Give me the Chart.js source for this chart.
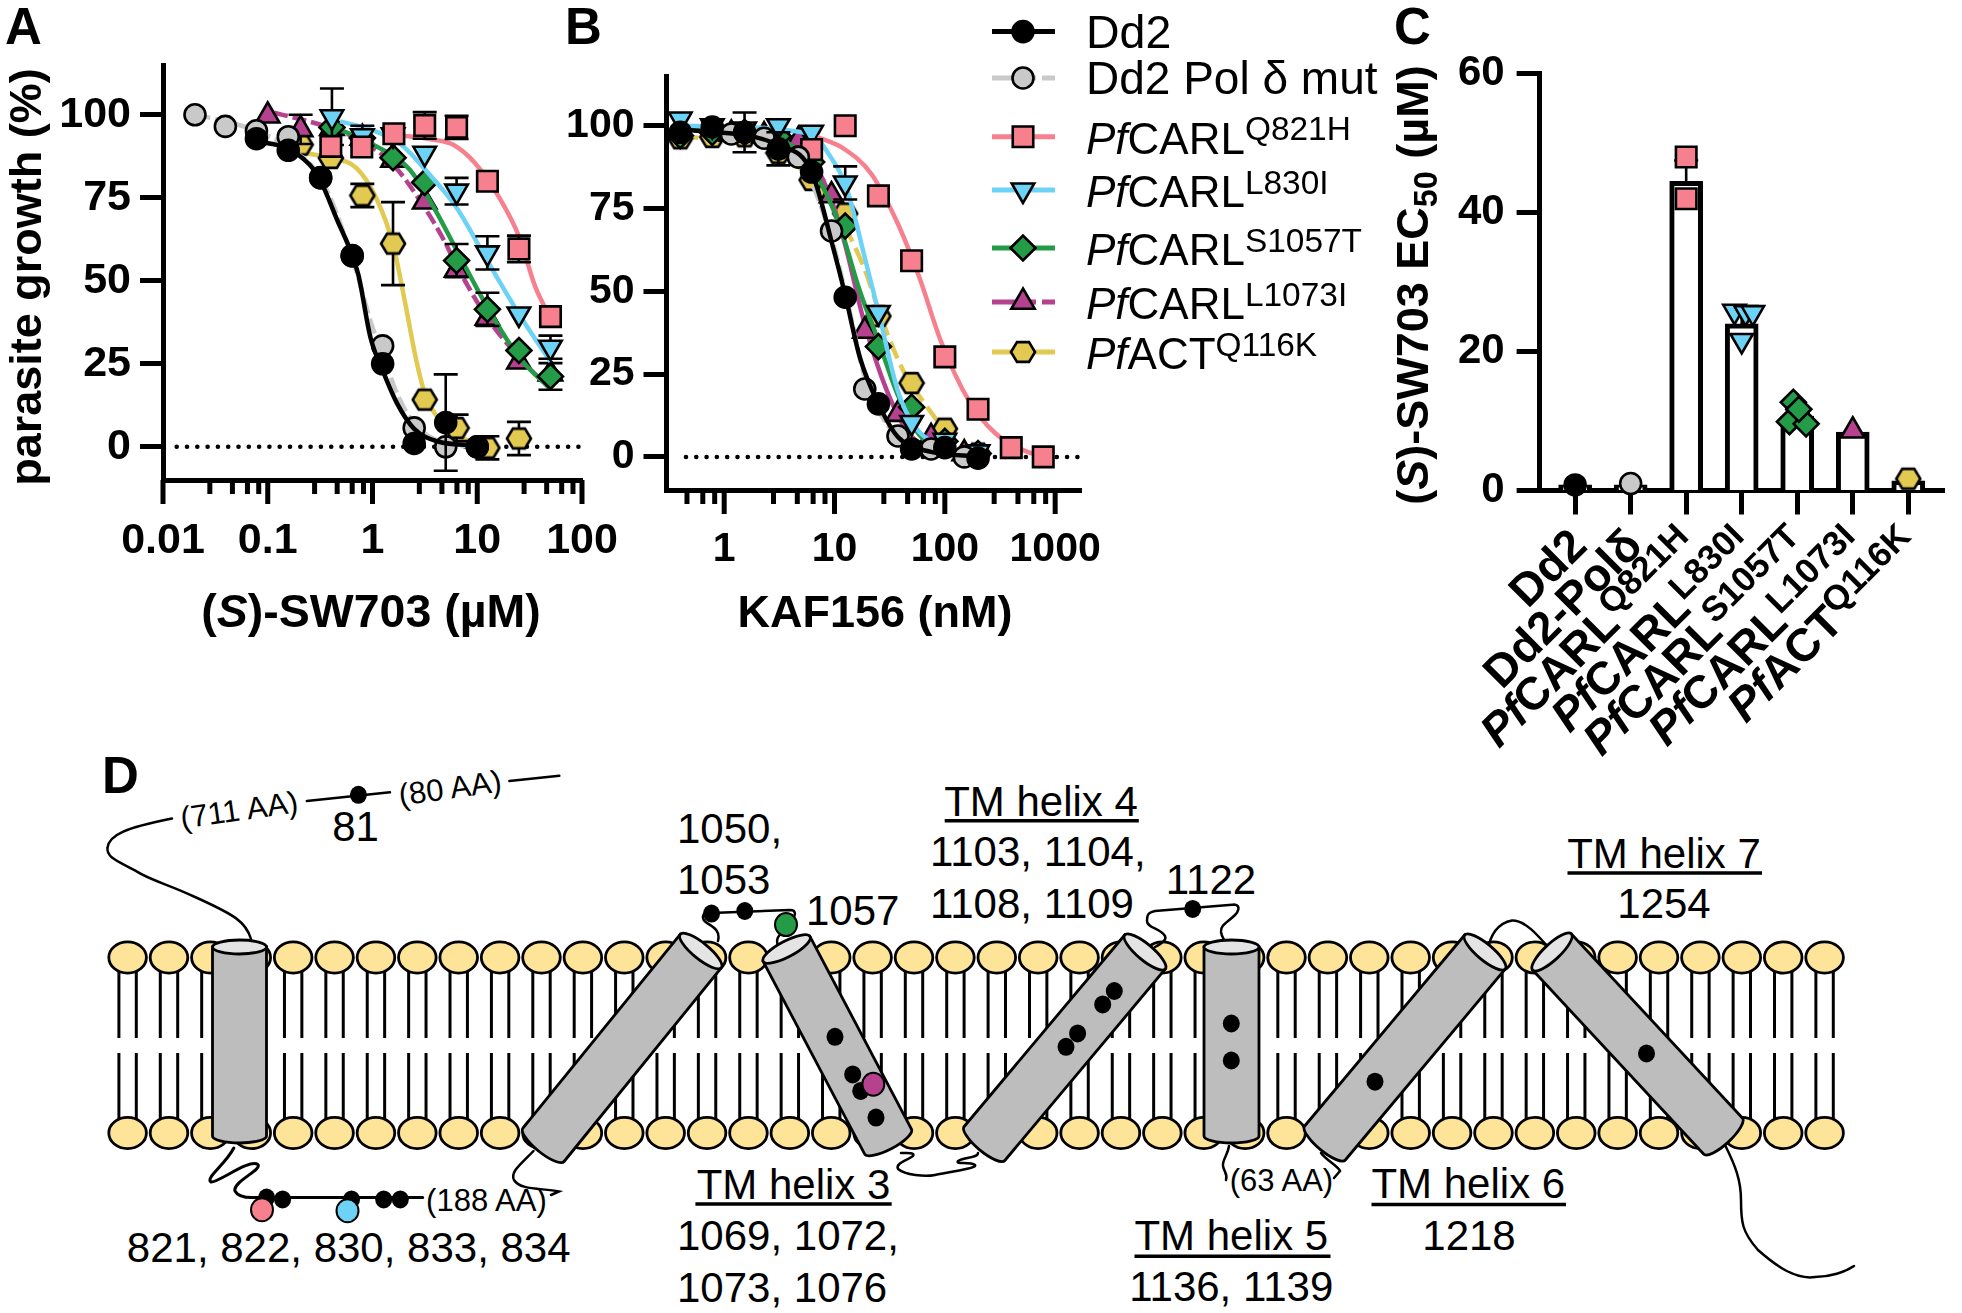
<!DOCTYPE html>
<html>
<head>
<meta charset="utf-8">
<title>SW703 resistance</title>
<script src="https://cdn.jsdelivr.net/npm/chart.js@4"></script>
<style>
html, body { margin: 0; padding: 0; background: #fff; }
#page { position: relative; width: 1962px; height: 1313px; overflow: hidden; }
#page canvas, #page svg { position: absolute; left: 0; top: 0; }
</style>
</head>
<body>
<div id="page">
  <svg id="diagram" width="1962" height="1313"></svg>
  <canvas id="chartA" width="1962" height="1313"></canvas>
  <canvas id="chartB" width="1962" height="1313"></canvas>
  <canvas id="chartC" width="1962" height="1313"></canvas>
</div>
<script>
// tick labels
const yTicksGrowth = [0, 25, 50, 75, 100];
const yTicksEc50 = [0, 20, 40, 60];
const decadesA = [0.01, 0.1, 1, 10, 100];
const decadesB = [1, 10, 100, 1000];
const minorSteps = [2.8, 4.6, 6.4, 8.2];

// panel A, measured points
const aDd2X = [0.078, 0.157, 0.32, 0.64, 1.25, 2.5, 5, 10];
const aDd2Y = [92.8, 89.3, 81.1, 57.6, 25, 1, 7.3, 0];
const aDd2E = [0, 0, 0, 0, 0, 0, 14.5, 0];
const aPolX = [0.0202, 0.0394, 0.078, 0.157, 0.32, 0.64, 1.25, 2.5, 5, 10];
const aPolY = [100, 96.5, 95.2, 93.4, 81, 57.5, 30.4, 5.7, 0, 0];
const aPinkX = [0.4, 0.79, 1.6, 3.15, 6.35, 12.5, 25, 50];
const aPinkY = [90.5, 90.3, 94.3, 96.8, 96.2, 80, 59.6, 39.2];
const aPinkE = [0, 0, 0, 4, 3.5, 0, 4, 0];
const aBlueX = [0.41, 0.8, 1.57, 3.15, 6.35, 12.5, 25, 50];
const aBlueY = [99.4, 93.7, 94, 88.4, 77, 58.4, 40, 30];
const aBlueE = [8.5, 3, 0, 0, 4, 5, 0, 3.5];
const aGreenX = [0.41, 0.8, 1.57, 3.15, 6.35, 12.5, 25, 50];
const aGreenY = [96.2, 93, 87.1, 79.6, 56.1, 41.4, 29, 21.2];
const aGreenE = [0, 0, 0, 0, 5, 5, 0, 4];
const aMagX = [0.1, 0.206, 0.41, 0.8, 1.57, 3.15, 6.35, 12.5, 25, 50];
const aMagY = [99.7, 95.6, 96, 93, 86.4, 73.8, 53.3, 38.8, 25.6, 22];
const aMagE = [0, 4.4, 0, 0, 0, 0, 0, 0, 0, 0];
const aYelX = [0.206, 0.4, 0.8, 1.57, 3.15, 6.35, 12.5, 25];
const aYelY = [91, 87, 75.7, 61.2, 14.2, 5.7, -0.3, 2.5];
const aYelE = [0, 0, 3.5, 12.5, 0, 4, 3.5, 5];

// panel A, fitted curves
const aDd2CurveX = [0.078, 0.15, 0.25, 0.32, 0.45, 0.73, 0.955, 1.25, 1.72, 2.5, 4.2, 10];
const aDd2CurveY = [92, 90, 85, 80, 69, 52, 33, 23, 13, 5.4, 1.6, 0.4];
const aPolCurveX = [0.02, 0.04, 0.08, 0.16, 0.32, 0.64, 1, 1.25, 1.72, 2.5, 5, 10];
const aPolCurveY = [100, 98, 95, 90, 81, 57, 36, 28, 16, 7, 1, 0];
const aPinkCurveX = [1.57, 3.5, 5.9, 9.5, 16.4, 25, 36, 50];
const aPinkCurveY = [94, 92.7, 91, 85.5, 74.8, 63.4, 48, 38.8];
const aBlueCurveX = [0.49, 0.95, 1.88, 3.5, 6.35, 12.5, 25, 50];
const aBlueCurveY = [98, 95.6, 91, 82, 72, 56, 40, 25.6];
const aGreenCurveX = [0.41, 0.53, 1.09, 2.25, 3.87, 6.66, 12.5, 25, 50];
const aGreenCurveY = [96, 95, 90.5, 83.6, 72, 58, 42, 27, 17.4];
const aMagCurveX = [0.115, 0.215, 0.4, 0.76, 1.57, 3.15, 4.85, 6.35, 12.5, 25, 50];
const aMagCurveY = [100.6, 98.5, 96, 92.4, 85, 72, 62, 54.6, 38.8, 27, 17.4];
const aYelCurveX = [0.215, 0.4, 0.7, 1.09, 1.57, 2.06, 2.58, 3.2, 4.4, 6.35, 10, 15];
const aYelCurveY = [88.6, 87, 84, 74.8, 61, 43, 27, 15.5, 8, 3.5, 1, 0.1];

// panel B, measured points
const bDd2X = [0.4, 0.78, 1.53, 3.1, 6.2, 12.5, 25, 50, 100, 200];
const bDd2Y = [98, 99.6, 98, 93, 86, 48.2, 16, 2.4, 2.8, -0.4];
const bDd2E = [0, 0, 6, 5, 0, 0, 0, 0, 0, 0];
const bPolX = [1.16, 2.3, 4.7, 9.4, 18.8, 37.6, 75, 150];
const bPolY = [97.5, 96.2, 90.5, 68.2, 20.5, 6.3, 2.4, 0];
const bPinkX = [6.2, 12.5, 25, 50, 100, 200, 400, 780];
const bPinkY = [92.8, 100, 78.8, 59.2, 30.2, 14.4, 2.8, 0];
const bBlueX = [0.4, 0.78, 1.53, 3.1, 6.2, 12.5, 25, 50, 100, 200];
const bBlueY = [102, 100, 99, 100, 98, 82.7, 43.6, 10.4, 5, 1.5];
const bBlueE = [0, 0, 0, 0, 0, 5, 0, 0, 0, 0];
const bGreenX = [0.4, 0.78, 1.53, 3.1, 6.2, 12.5, 25, 50, 100, 200];
const bGreenY = [97, 98, 98, 96.8, 89, 69.7, 33.3, 15, 4.7, 1];
const bMagX = [1.16, 2.3, 4.7, 9.4, 18.8, 37.6, 75, 150];
const bMagY = [97.5, 97, 95.6, 78.9, 38, 12.9, 5.9, 1];
const bYelX = [0.4, 0.78, 1.53, 3.1, 6.2, 12.5, 25, 50, 100, 200];
const bYelY = [96.2, 96.6, 96.8, 91.8, 83.6, 73.5, 42.5, 22.3, 8.5, 1];

// panel B, fitted curves
const bDd2CurveX = [0.4, 3.2, 6.2, 9.8, 12.5, 17, 25, 37.6, 75, 200];
const bDd2CurveY = [99, 94, 86, 62.7, 48.9, 30, 16, 6, 1.5, 0.2];
const bPolCurveX = [1.16, 4.7, 9.4, 12.5, 18.8, 25, 37.6, 75, 150];
const bPolCurveY = [98, 90, 66, 50, 24, 14, 6, 1, 0];
const bPinkCurveX = [7, 12.2, 21.5, 37.6, 59, 92, 163, 285, 560, 780];
const bPinkCurveY = [96.6, 93, 85.5, 70.3, 54, 35, 17.3, 7.2, 1.5, 0.5];
const bBlueCurveX = [0.4, 6.2, 8.7, 12.7, 19.2, 25, 37.6, 52, 100, 200];
const bBlueCurveY = [100, 97.5, 91.8, 81.7, 59, 43.8, 19.8, 9.7, 2.8, 0.3];
const bGreenCurveX = [0.4, 3.1, 6.2, 11, 17, 25, 37.6, 59, 130];
const bGreenCurveY = [99, 96, 87.4, 70.3, 50, 35, 18.6, 6.6, 0.9];
const bMagCurveX = [1.16, 4.7, 8.7, 12.2, 18.8, 30, 47, 92, 163];
const bMagCurveY = [98, 94.3, 80.4, 65.3, 40, 19.8, 7.2, 1.5, 0.3];
const bYelCurveX = [0.4, 3.1, 6.2, 9.8, 18.2, 27, 42, 66, 115, 205];
const bYelCurveY = [97, 92, 83.6, 75.4, 57.7, 41.3, 26, 16, 6, 0.9];

// panel C
const ec50Means = [0.8, 0.8, 44.5, 24, 10.7, 8.4, 1.4];
const ec50Errs = [0, 0, 3, 2, 1, 0, 0];
const cDd2X = [0];
const cDd2Y = [0.8];
const cPolX = [1];
const cPolY = [1];
const cPinkX = [2, 2];
const cPinkY = [48, 42];
const cBlueX = [2.87, 3.07, 3.2, 3];
const cBlueY = [25.8, 25.6, 25.6, 21.6];
const cGreenX = [3.86, 4.16, 3.93, 4.03];
const cGreenY = [9.9, 9.6, 12.7, 11.7];
const cMagX = [5];
const cMagY = [8.6];
const cYelX = [6];
const cYelY = [1.7];

// rich text: each run is text plus flags for italic and super/subscript
const categories = [
    [{t: 'Dd2'}],
    [{t: 'Dd2-Polδ'}],
    [{t: 'Pf', i: 1}, {t: 'CARL'}, {t: 'Q821H', sup: 1}],
    [{t: 'Pf', i: 1}, {t: 'CARL'}, {t: 'L830I', sup: 1}],
    [{t: 'Pf', i: 1}, {t: 'CARL'}, {t: 'S1057T', sup: 1}],
    [{t: 'Pf', i: 1}, {t: 'CARL'}, {t: 'L1073I', sup: 1}],
    [{t: 'Pf', i: 1}, {t: 'ACT'}, {t: 'Q116K', sup: 1}],
];
const legendLabels = [
    [{t: 'Dd2'}],
    [{t: 'Dd2 Pol δ mut'}],
    [{t: 'Pf', i: 1}, {t: 'CARL'}, {t: 'Q821H', sup: 1}],
    [{t: 'Pf', i: 1}, {t: 'CARL'}, {t: 'L830I', sup: 1}],
    [{t: 'Pf', i: 1}, {t: 'CARL'}, {t: 'S1057T', sup: 1}],
    [{t: 'Pf', i: 1}, {t: 'CARL'}, {t: 'L1073I', sup: 1}],
    [{t: 'Pf', i: 1}, {t: 'ACT'}, {t: 'Q116K', sup: 1}],
];

const FONT = '"Liberation Sans", Arial, sans-serif';

function hexagon(size) {
    const c = document.createElement('canvas');
    c.width = size + 4;
    c.height = size + 4;
    const g = c.getContext('2d');
    g.translate(c.width / 2, c.height / 2);
    g.beginPath();
    for (let i = 0; i < 6; i++) {
        const a = i * Math.PI / 3;
        g.lineTo(Math.cos(a) * size / 2, Math.sin(a) * size / 2 * 0.95);
    }
    g.closePath();
    g.fillStyle = '#e2c952';
    g.strokeStyle = '#000';
    g.lineWidth = 2.6;
    g.fill();
    g.stroke();
    return c;
}

const styles = {
    dd2: {color: '#000000', point: 'circle', radius: 10.5},
    pol: {color: '#c9c9c9', point: 'circle', radius: 10.5, dash: [16, 5]},
    pink: {color: '#f6808d', point: 'rect', radius: 14.5},
    blue: {color: '#6dd3f6', point: 'triangle', radius: 13, rotation: 180},
    green: {color: '#239b47', point: 'rectRot', radius: 12.5},
    mag: {color: '#b6418f', point: 'triangle', radius: 13.5},
    yel: {color: '#e2c952', point: hexagon(24), radius: 11},
};

function pts(xs, ys) {
    return xs.map((x, i) => ({x: x, y: ys[i]}));
}

function markers(style, xs, ys, errs) {
    return {
        type: 'scatter',
        data: pts(xs, ys),
        errs: errs,
        showLine: false,
        clip: false,
        pointStyle: style.point,
        pointRadius: style.radius,
        pointRotation: style.rotation || 0,
        pointBackgroundColor: style.color,
        pointBorderColor: '#000',
        pointBorderWidth: 2.6,
    };
}

function curve(style, xs, ys, dash) {
    return {
        type: 'scatter',
        data: pts(xs, ys),
        showLine: true,
        pointRadius: 0,
        borderColor: style.color,
        borderWidth: 4.5,
        borderDash: dash || [],
        cubicInterpolationMode: 'monotone',
        clip: false,
    };
}

function zeroLine(from, to) {
    return {
        type: 'scatter',
        data: [{x: from, y: 0}, {x: to, y: 0}],
        showLine: true,
        pointRadius: 0,
        borderColor: '#000',
        borderWidth: 4.5,
        borderDash: [0.1, 10.2],
        borderCapStyle: 'round',
        clip: false,
    };
}

function drawRich(ctx, runs, x, y, size, opts) {
    opts = opts || {};
    const weight = opts.bold ? 'bold ' : '';
    const fontFor = r => (r.i ? 'italic ' : '') + weight + (r.sup ? size * 0.76 : r.sub ? size * 0.72 : size) + 'px ' + FONT;
    let total = 0;
    runs.forEach(r => {
        ctx.font = fontFor(r);
        total += ctx.measureText(r.t).width;
    });
    ctx.save();
    ctx.translate(x, y);
    ctx.rotate((opts.angle || 0) * Math.PI / 180);
    ctx.fillStyle = '#000';
    ctx.textBaseline = 'alphabetic';
    ctx.textAlign = 'left';
    let pos = opts.align === 'right' ? -total : opts.align === 'center' ? -total / 2 : 0;
    runs.forEach(r => {
        ctx.font = fontFor(r);
        const dy = r.sup ? -size * 0.3 : r.sub ? size * 0.2 : 0;
        ctx.fillText(r.t, pos, dy);
        pos += ctx.measureText(r.t).width;
    });
    ctx.restore();
}

// whiskers go under the marker of their own dataset
const errorBars = {
    id: 'errorBars',
    beforeDatasetDraw(chart, args) {
        const ds = chart.data.datasets[args.index];
        if (!ds.errs) return;
        const ctx = chart.ctx;
        const xs = chart.scales.x, ys = chart.scales.y;
        ctx.save();
        ctx.strokeStyle = '#000';
        ctx.lineWidth = 2.6;
        ds.data.forEach((p, i) => {
            const e = ds.errs[i];
            if (!e) return;
            const x = xs.getPixelForValue(p.x);
            const top = ys.getPixelForValue(p.y + e);
            const bot = ys.getPixelForValue(p.y - e);
            ctx.beginPath();
            ctx.moveTo(x, top);
            ctx.lineTo(x, bot);
            ctx.moveTo(x - 12, top);
            ctx.lineTo(x + 12, top);
            ctx.moveTo(x - 12, bot);
            ctx.lineTo(x + 12, bot);
            ctx.stroke();
        });
        ctx.restore();
    },
};

// chart.js has one tick length per scale, log axes need two
const logTickMarks = {
    id: 'logTickMarks',
    beforeDatasetsDraw(chart) {
        const sc = chart.scales.x;
        if (sc.type !== 'logarithmic') return;
        const ctx = chart.ctx;
        ctx.save();
        ctx.strokeStyle = '#000';
        ctx.lineWidth = 5;
        sc.ticks.forEach(t => {
            const x = sc.getPixelForValue(t.value);
            ctx.beginPath();
            ctx.moveTo(x, sc.top);
            ctx.lineTo(x, sc.top + (t.major ? 24 : 14));
            ctx.stroke();
        });
        ctx.restore();
    },
};

const textLayer = {
    id: 'textLayer',
    afterDraw(chart, args, opts) {
        if (opts.draw) opts.draw(chart, chart.ctx);
    },
};

function logTicks(decades, lo, hi) {
    const out = [];
    decades.forEach(d => {
        out.push({value: d, major: true});
        minorSteps.forEach(m => out.push({value: d * m, major: false}));
    });
    [0.1, 0.01].forEach(f => minorSteps.forEach(m => out.push({value: decades[0] * f * m, major: false})));
    return out.filter(t => t.value >= lo && t.value <= hi).sort((a, b) => a.value - b.value);
}

function growthChart(id, cfg) {
    return new Chart(document.getElementById(id), {
        type: 'scatter',
        data: {datasets: cfg.datasets},
        plugins: [errorBars, logTickMarks, textLayer],
        options: {
            responsive: false,
            animation: false,
            devicePixelRatio: 1,
            events: [],
            layout: {padding: {left: cfg.left, top: cfg.top, right: 1962 - cfg.right, bottom: 1313 - cfg.bottom - 140}},
            plugins: {legend: {display: false}, tooltip: {enabled: false}, textLayer: {draw: cfg.draw}},
            scales: {
                x: {
                    type: 'logarithmic',
                    min: cfg.xMin,
                    max: cfg.xMax,
                    afterFit: s => { s.height = 140; },
                    afterBuildTicks: s => { s.ticks = logTicks(cfg.decades, cfg.xMin, cfg.xMax); },
                    grid: {drawOnChartArea: false, tickLength: 24, tickColor: 'transparent'},
                    border: {color: '#000', width: 5},
                    ticks: {
                        autoSkip: false, maxRotation: 0, minRotation: 0, padding: cfg.xPad, color: '#000',
                        font: {family: FONT, weight: 'bold', size: cfg.tickSize},
                        callback: (v, i, ticks) => ticks[i].major ? String(v) : '',
                    },
                },
                y: {
                    type: 'linear',
                    min: -10,
                    max: 115,
                    afterFit: s => { s.width = cfg.axisW; },
                    afterBuildTicks: s => { s.ticks = yTicksGrowth.map(v => ({value: v})); },
                    grid: {drawOnChartArea: false, tickLength: 23, tickWidth: 5, tickColor: '#000'},
                    border: {color: '#000', width: 5},
                    ticks: {
                        padding: 9, color: '#000',
                        font: {family: FONT, weight: 'bold', size: cfg.tickSize},
                        callback: v => String(v),
                    },
                },
            },
        },
    });
}

growthChart('chartA', {
    left: 0, top: 65, right: 582, bottom: 480, axisW: 163, tickSize: 43, xPad: 11,
    xMin: 0.01, xMax: 100, decades: decadesA,
    datasets: [
        markers(styles.dd2, aDd2X, aDd2Y, aDd2E), curve(styles.dd2, aDd2CurveX, aDd2CurveY),
        markers(styles.pol, aPolX, aPolY), curve(styles.pol, aPolCurveX, aPolCurveY, styles.pol.dash),
        markers(styles.pink, aPinkX, aPinkY, aPinkE), curve(styles.pink, aPinkCurveX, aPinkCurveY),
        markers(styles.blue, aBlueX, aBlueY, aBlueE), curve(styles.blue, aBlueCurveX, aBlueCurveY),
        markers(styles.green, aGreenX, aGreenY, aGreenE), curve(styles.green, aGreenCurveX, aGreenCurveY),
        markers(styles.mag, aMagX, aMagY, aMagE), curve(styles.mag, aMagCurveX, aMagCurveY, [14, 5]),
        markers(styles.yel, aYelX, aYelY, aYelE), curve(styles.yel, aYelCurveX, aYelCurveY),
        zeroLine(0.0135, 100),
    ],
    draw(chart, ctx) {
        drawRich(ctx, [{t: 'A'}], 5, 44, 51, {bold: true});
        drawRich(ctx, [{t: 'parasite growth (%)'}], 41, 277, 45, {bold: true, angle: -90, align: 'center'});
        drawRich(ctx, [{t: '('}, {t: 'S', i: 1}, {t: ')-SW703 (µM)'}], 371, 627, 46.5, {bold: true, align: 'center'});
    },
});

growthChart('chartB', {
    left: 560, top: 76, right: 1081, bottom: 490, axisW: 106.5, tickSize: 41, xPad: 11,
    xMin: 0.316, xMax: 1715, decades: decadesB,
    datasets: [
        markers(styles.dd2, bDd2X, bDd2Y, bDd2E), curve(styles.dd2, bDd2CurveX, bDd2CurveY),
        markers(styles.pol, bPolX, bPolY), curve(styles.pol, bPolCurveX, bPolCurveY, styles.pol.dash),
        markers(styles.pink, bPinkX, bPinkY), curve(styles.pink, bPinkCurveX, bPinkCurveY),
        markers(styles.blue, bBlueX, bBlueY, bBlueE), curve(styles.blue, bBlueCurveX, bBlueCurveY),
        markers(styles.green, bGreenX, bGreenY), curve(styles.green, bGreenCurveX, bGreenCurveY),
        markers(styles.mag, bMagX, bMagY), curve(styles.mag, bMagCurveX, bMagCurveY),
        markers(styles.yel, bYelX, bYelY), curve(styles.yel, bYelCurveX, bYelCurveY, [18, 7]),
        zeroLine(0.45, 1715),
    ],
    draw(chart, ctx) {
        drawRich(ctx, [{t: 'B'}], 565, 44, 51, {bold: true});
        drawRich(ctx, [{t: 'KAF156 (nM)'}], 875, 627, 45, {bold: true, align: 'center'});
        // legend
        const order = [styles.dd2, styles.pol, styles.pink, styles.blue, styles.green, styles.mag, styles.yel];
        const rowY = [31.6, 78, 136.8, 190, 248, 302, 352];
        const baseY = [48, 94, 153.5, 207, 265, 319, 369];
        const sizes = [46.5, 46, 44, 44, 44, 44, 44];
        order.forEach((st, i) => {
            ctx.save();
            ctx.strokeStyle = st.color;
            ctx.lineWidth = 5;
            ctx.setLineDash(st === styles.pol || st === styles.mag ? [30, 6, 8, 6, 30] : []);
            ctx.beginPath();
            ctx.moveTo(992, rowY[i]);
            ctx.lineTo(1055, rowY[i]);
            ctx.stroke();
            ctx.setLineDash([]);
            ctx.fillStyle = st.color;
            ctx.strokeStyle = '#000';
            ctx.lineWidth = 2.6;
            Chart.helpers.drawPoint(ctx, {pointStyle: st.point, radius: st.radius, rotation: st.rotation || 0, borderWidth: 2.6}, 1023, rowY[i]);
            ctx.restore();
            drawRich(ctx, legendLabels[i], 1086, baseY[i], sizes[i]);
        });
    },
});

new Chart(document.getElementById('chartC'), {
    type: 'bar',
    data: {
        datasets: [
            markers(styles.dd2, cDd2X, cDd2Y),
            markers(styles.pol, cPolX, cPolY),
            markers(styles.pink, cPinkX, cPinkY),
            markers(styles.blue, cBlueX, cBlueY),
            markers(styles.green, cGreenX, cGreenY),
            markers(styles.mag, cMagX, cMagY),
            markers(styles.yel, cYelX, cYelY),
            {
                type: 'bar',
                data: ec50Means.map((v, i) => ({x: i, y: v})),
                errs: ec50Errs,
                backgroundColor: '#fff',
                borderColor: '#000',
                borderWidth: 5,
                barThickness: 33,
                grouped: false,
            },
        ],
    },
    plugins: [errorBars, textLayer],
    options: {
        responsive: false,
        animation: false,
        devicePixelRatio: 1,
        events: [],
        layout: {padding: {left: 1390, top: 73.7, right: 1962 - 1954.6, bottom: 1313 - 490.5 - 240}},
        plugins: {
            legend: {display: false},
            tooltip: {enabled: false},
            textLayer: {
                draw(chart, ctx) {
                    const sc = chart.scales.x;
                    categories.forEach((runs, i) => {
                        drawRich(ctx, runs, sc.getPixelForValue(i) + 14, 548, 46, {bold: true, angle: -45, align: 'right'});
                    });
                    drawRich(ctx, [{t: 'C'}], 1394, 44, 51, {bold: true});
                    drawRich(ctx, [{t: '('}, {t: 'S', i: 1}, {t: ')-SW703 EC'}, {t: '50', sub: 1}, {t: ' (µM)'}], 1428, 285, 45, {bold: true, angle: -90, align: 'center'});
                },
            },
        },
        scales: {
            x: {
                type: 'linear',
                min: -0.64,
                max: 6.66,
                offset: false,
                afterFit: s => { s.height = 240; },
                afterBuildTicks: s => { s.ticks = categories.map((c, i) => ({value: i})); },
                grid: {offset: false, drawOnChartArea: false, tickLength: 24, tickWidth: 5, tickColor: '#000'},
                border: {color: '#000', width: 5},
                ticks: {display: false},
            },
            y: {
                type: 'linear',
                min: 0,
                max: 60,
                afterFit: s => { s.width = 149.6; },
                afterBuildTicks: s => { s.ticks = yTicksEc50.map(v => ({value: v})); },
                grid: {drawOnChartArea: false, tickLength: 23, tickWidth: 5, tickColor: '#000'},
                border: {color: '#000', width: 5},
                ticks: {
                    padding: 12, color: '#000',
                    font: {family: FONT, weight: 'bold', size: 42},
                    callback: v => String(v),
                },
            },
        },
    },
});

// panel D, the membrane schematic
const HEAD = '#fde498', CYL = '#bdbdbd', CAP = '#e4e4e4';
const headCount = 42;
let svg = '';

function line(x1, y1, x2, y2, w) {
    return `<line x1="${x1}" y1="${y1}" x2="${x2}" y2="${y2}" stroke="#000" stroke-width="${w || 3}"/>`;
}
function curveD(d, w) {
    return `<path d="${d}" fill="none" stroke="#000" stroke-width="${w || 2.5}" stroke-linecap="round"/>`;
}
function dot(x, y, fill) {
    return fill
        ? `<ellipse cx="${x}" cy="${y}" rx="11" ry="11.5" fill="${fill}" stroke="#000" stroke-width="2"/>`
        : `<ellipse cx="${x}" cy="${y}" rx="8.5" ry="9" fill="#000"/>`;
}
function label(x, y, str, anchor, size, rot) {
    const s = size || 42;
    const base = y + s * 0.36;
    const tf = rot ? ` transform="rotate(${rot} ${x} ${y})"` : '';
    return `<text x="${x}" y="${base}" text-anchor="${anchor || 'middle'}" font-family="Liberation Sans" font-size="${s}"${tf}>${str}</text>`;
}
function cylinder(x1, y1, x2, y2, w, e) {
    const len = Math.hypot(x2 - x1, y2 - y1);
    const ang = Math.atan2(x1 - x2, y2 - y1) * 180 / Math.PI;
    const h = w / 2;
    return `<g transform="translate(${x1} ${y1}) rotate(${ang})" stroke="#000" stroke-width="2.8">` +
        `<path d="M${-h} 0 L${-h} ${len} A${h} ${e} 0 0 0 ${h} ${len} L${h} 0 Z" fill="${CYL}"/>` +
        `<ellipse cx="0" cy="0" rx="${h}" ry="${e}" fill="${CAP}"/></g>`;
}

for (let i = 0; i < headCount; i++) {
    const x = 127.6 + i * 41.39;
    svg += line(x - 8.7, 957, x - 8.7, 1038) + line(x + 8.7, 957, x + 8.7, 1038);
    svg += line(x - 8.7, 1053, x - 8.7, 1133) + line(x + 8.7, 1053, x + 8.7, 1133);
}
for (let i = 0; i < headCount; i++) {
    const x = 127.6 + i * 41.39;
    [957.5, 1133].forEach(y => {
        svg += `<ellipse cx="${x}" cy="${y}" rx="18.8" ry="15.6" fill="${HEAD}" stroke="#000" stroke-width="2.8"/>`;
    });
}

// loops
svg += curveD('M251 939 C246 922 235 915 195 897 C170 885 150 880 137 871.6 C120 862 106 858 107.5 847.8 C109 835 125 828 172 818.6');
svg += curveD('M306.8 801 L390 792.3') + curveD('M509.4 781 L559.3 775.8');
svg += curveD('M233.8 1148 C225 1165 205 1178 211 1182 C218 1183 250 1158 258 1164.7 C262 1170 232 1182 235 1191 C238 1197 245 1197.6 252 1197.6 L422.7 1197.6', 3);
svg += curveD('M533.5 1151 C520 1165 510 1172 514 1180 C520 1190 540 1188 559 1191.4 L551 1195');
svg += curveD('M718 941 C722 925 702 925 703 917 C703 912 708 913 711 913 L790 910 C797 910 795 916 793 918');
svg += curveD('M777.5 944.7 C775 935 783 935 785 925');
svg += curveD('M901 1153 C905 1153 916 1152 913 1156 C908 1160 895 1163 898 1169 C905 1175 925 1177 935 1175 C950 1172 978 1168 975 1165 C970 1161 955 1165 958 1161 C965 1157 978 1158 978 1153');
svg += curveD('M1155 947 C1162 943 1167 940 1165 936 C1160 928 1147 928 1147 921 C1147 913 1150 912 1155 911 L1235 904.6 C1241 906 1238 912 1235 915 C1228 922 1220 925 1221 932 C1222 938 1225 942 1229 945');
svg += curveD('M1229 1146 C1228 1155 1222 1160 1223 1166 C1224 1172 1228 1174 1226 1180');
svg += curveD('M1321 1153 C1326 1160 1338 1166 1340 1171 L1334 1178');
svg += curveD('M1488 950 C1490 935 1498 923 1512 920.5 C1526 920 1540 938 1551 950.5');
svg += curveD('M1725.5 1146 C1735 1165 1741 1180 1741 1200 C1741 1222 1742 1232 1758 1250 C1775 1265 1795 1280 1815 1277 C1830 1277 1845 1272 1854 1266');

// helices
svg += cylinder(239.5, 947, 239.5, 1136, 54, 7);
svg += cylinder(700.8, 951, 543.5, 1144.8, 53, 8);
svg += cylinder(786.6, 949, 888, 1141.5, 53, 8);
svg += cylinder(1145, 952, 984.5, 1143.5, 53, 8);
svg += cylinder(1231.5, 947, 1231.5, 1136, 55, 7);
svg += cylinder(1485, 952, 1325, 1143, 53, 8);
svg += cylinder(1552, 952, 1723, 1136, 53, 8);

// residues
[[358.4, 794.8], [266.6, 1197.6], [282.6, 1199.4], [351.5, 1199.4], [383.7, 1199.4], [400.3, 1199.4],
 [711.5, 913.6], [744.8, 911], [835, 1036.8], [852.7, 1074.4], [860.7, 1090.9], [876, 1117.6],
 [1114.3, 991], [1102.7, 1004.4], [1077.6, 1033.4], [1066, 1046.8], [1192.7, 908.9],
 [1231.3, 1023.5], [1231.3, 1060.5], [1375, 1081.7], [1646.5, 1053.5]].forEach(p => { svg += dot(p[0], p[1]); });
svg += dot(262, 1209.7, '#f6808d') + dot(347.5, 1210.7, '#6dd3f6');
svg += dot(786, 924.6, '#239b47') + dot(873.3, 1084.3, '#b6418f');

// text
svg += `<text x="102" y="793" font-family="Liberation Sans" font-weight="bold" font-size="51">D</text>`;
svg += label(239, 809.4, '(711 AA)', 'middle', 31, -8);
svg += label(450, 787.5, '(80 AA)', 'middle', 31, -8);
svg += label(486.4, 1199.8, '(188 AA)', 'middle', 31);
svg += label(1281.5, 1179.8, '(63 AA)', 'middle', 31);
svg += label(355.5, 826, '81');
svg += label(348.7, 1247.3, '821, 822, 830, 833, 834');
svg += label(677, 827.7, '1050,', 'start') + label(677, 879, '1053', 'start') + label(806, 910, '1057', 'start');
svg += label(793.5, 1184, 'TM helix 3') + line(695.4, 1204, 891.7, 1204, 3.5);
svg += label(677, 1235, '1069, 1072,', 'start') + label(677, 1286.4, '1073, 1076', 'start');
svg += label(1041, 800.6, 'TM helix 4') + line(944.7, 820.7, 1138.8, 820.7, 3.5);
svg += label(930, 851, '1103, 1104,', 'start') + label(930, 902.9, '1108, 1109', 'start');
svg += label(1211, 879, '1122');
svg += label(1231.3, 1234.4, 'TM helix 5') + line(1134.5, 1256.3, 1330.5, 1256.3, 3.5);
svg += label(1231.3, 1285.6, '1136, 1139');
svg += label(1468.3, 1183.3, 'TM helix 6') + line(1371.5, 1204.4, 1566, 1204.4, 3.5);
svg += label(1469, 1234.4, '1218');
svg += label(1664, 852.4, 'TM helix 7') + line(1567.5, 872.9, 1762, 872.9, 3.5);
svg += label(1664, 902.9, '1254');

document.getElementById('diagram').innerHTML = svg;
</script>
</body>
</html>
